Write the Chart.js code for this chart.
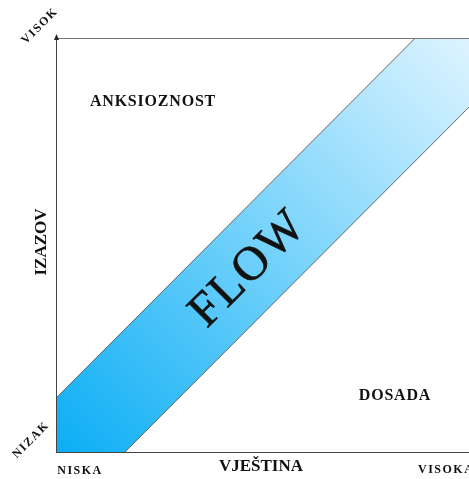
<!DOCTYPE html>
<html>
<head>
<meta charset="utf-8">
<script src="https://cdn.jsdelivr.net/npm/chart.js@4/dist/chart.umd.min.js"></script>
<style>
  html, body { margin: 0; padding: 0; background: #fff; overflow: hidden; }
</style>
</head>
<body>
<canvas id="flowChart" width="469" height="479"></canvas>
<script>
// vještina (x) od 0 do 10, izazov (y) od 0 do 10
const skill = [0, 10];
const flowUpper = [1.3, 11.3];
const flowLower = [-1.67, 8.33];

const zoneLabels = ["ANKSIOZNOST", "DOSADA"];
const xTicks = ["NISKA", "VISOKA"];
const yTicks = ["NIZAK", "VISOK"];

const serif = "'Liberation Serif', 'DejaVu Serif', serif";

function flowGradient(context) {
    const area = context.chart.chartArea;
    if (!area) return "#5cc8f8";
    const g = context.chart.ctx.createLinearGradient(area.left, area.bottom, area.right, area.top);
    g.addColorStop(0, "rgb(12,174,245)");
    g.addColorStop(0.45, "rgb(105,206,250)");
    g.addColorStop(1, "rgb(222,244,255)");
    return g;
}

// osi, strelice i natpisi
const labelsPlugin = {
    id: "flowLabels",
    afterDatasetsDraw(chart) {
        const { ctx, chartArea: a } = chart;
        ctx.save();
        ctx.strokeStyle = "#444";
        ctx.lineWidth = 1;
        ctx.beginPath();
        ctx.moveTo(a.left + 0.5, a.bottom);
        ctx.lineTo(a.left + 0.5, a.top - 2);
        ctx.moveTo(a.left, a.bottom + 0.5);
        ctx.lineTo(a.right, a.bottom + 0.5);
        ctx.stroke();
        ctx.strokeStyle = "#777";
        ctx.beginPath();
        ctx.moveTo(a.left, a.top + 0.5);
        ctx.lineTo(a.right, a.top + 0.5);
        ctx.stroke();
        // strelica na vrhu
        ctx.fillStyle = "#222";
        ctx.beginPath();
        ctx.moveTo(a.left + 0.5, a.top - 4);
        ctx.lineTo(a.left - 2, a.top + 2);
        ctx.lineTo(a.left + 3, a.top + 2);
        ctx.closePath();
        ctx.fill();

        ctx.fillStyle = "#111";
        ctx.textBaseline = "middle";
        ctx.textAlign = "center";

        ctx.font = "bold 16px " + serif;
        ctx.letterSpacing = "0.8px";
        ctx.fillText(zoneLabels[0], 153, 102);
        ctx.fillText(zoneLabels[1], 395, 396);

        ctx.letterSpacing = "0px";
        ctx.font = "bold 17px " + serif;
        ctx.fillText("VJEŠTINA", 261, 467);

        ctx.font = "bold 12px " + serif;
        ctx.letterSpacing = "1.5px";
        ctx.fillText(xTicks[0], 80, 471);
        ctx.textAlign = "left";
        ctx.fillText(xTicks[1], 418, 470);
        ctx.textAlign = "center";

        ctx.save();
        ctx.translate(42, 242);
        ctx.rotate(-Math.PI / 2);
        ctx.letterSpacing = "0px";
        ctx.font = "bold 17px " + serif;
        ctx.fillText("IZAZOV", 0, 0);
        ctx.restore();

        [[yTicks[1], 40, 26], [yTicks[0], 31, 440]].forEach(([t, x, y]) => {
            ctx.save();
            ctx.translate(x, y);
            ctx.rotate(-Math.PI / 4);
            ctx.font = "bold 12px " + serif;
            ctx.letterSpacing = "1.5px";
            ctx.fillText(t, 0, 0);
            ctx.restore();
        });

        ctx.save();
        ctx.translate(248, 270);
        ctx.rotate(-Math.PI / 4);
        ctx.font = "48px " + serif;
        ctx.letterSpacing = "2px";
        ctx.lineWidth = 0.6;
        ctx.strokeStyle = "#111";
        ctx.fillText("FLOW", 1, 0);
        ctx.strokeText("FLOW", 1, 0);
        ctx.restore();

        ctx.restore();
    },
};

new Chart(document.getElementById("flowChart"), {
    type: "line",
    data: {
        labels: skill,
        datasets: [
            {
                data: skill.map((x, i) => ({ x: x, y: flowUpper[i] })),
                borderColor: "#666",
                borderWidth: 1,
                pointRadius: 0,
                fill: false,
            },
            {
                data: skill.map((x, i) => ({ x: x, y: flowLower[i] })),
                borderColor: "#666",
                borderWidth: 1,
                pointRadius: 0,
                fill: "-1",
                backgroundColor: flowGradient,
            },
        ],
    },
    options: {
        responsive: false,
        animation: false,
        layout: {
            padding: { left: 56, top: 38, right: 0, bottom: 27 },
        },
        plugins: {
            legend: { display: false },
            tooltip: { enabled: false },
        },
        scales: {
            x: { type: "linear", min: 0, max: 10, display: false },
            y: { min: 0, max: 10, display: false },
        },
    },
    plugins: [labelsPlugin],
});
</script>
</body>
</html>
